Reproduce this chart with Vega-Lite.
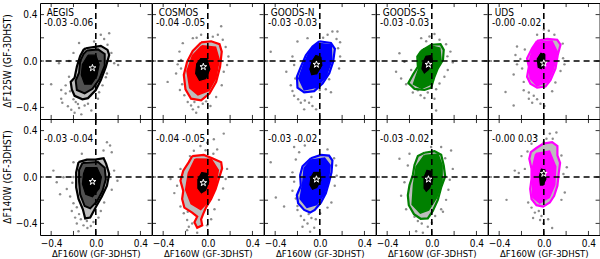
{
"$schema":"https://vega.github.io/schema/vega-lite/v6.json",
"padding":{"left":3,"top":1,"right":0,"bottom":0},
"bounds":"flush",
"data":{"values":[
{"s":"AEGIS","b":"F125W","t":"s","m":"-0.03 -0.06","x":-0.03,"y":-0.06},
{"s":"AEGIS","b":"F140W","t":"s","m":"-0.03 -0.04","x":-0.03,"y":-0.04},
{"s":"COSMOS","b":"F125W","t":"s","m":"-0.04 -0.05","x":-0.04,"y":-0.05},
{"s":"COSMOS","b":"F140W","t":"s","m":"-0.04 -0.05","x":-0.04,"y":-0.05},
{"s":"GOODS-N","b":"F125W","t":"s","m":"-0.03 -0.03","x":-0.03,"y":-0.03},
{"s":"GOODS-N","b":"F140W","t":"s","m":"-0.03 -0.02","x":-0.03,"y":-0.02},
{"s":"GOODS-S","b":"F125W","t":"s","m":"-0.03 -0.03","x":-0.03,"y":-0.03},
{"s":"GOODS-S","b":"F140W","t":"s","m":"-0.03 -0.02","x":-0.03,"y":-0.02},
{"s":"UDS","b":"F125W","t":"s","m":"-0.00 -0.02","x":0.0,"y":-0.02},
{"s":"UDS","b":"F140W","t":"s","m":"-0.00 0.03","x":0.0,"y":0.03},

{"s":"AEGIS","b":"F125W","t":"c","l":1,"o":0,"x":-0.09,"y":0.11},
{"s":"AEGIS","b":"F125W","t":"c","l":1,"o":1,"x":0.045,"y":0.13},
{"s":"AEGIS","b":"F125W","t":"c","l":1,"o":2,"x":0.105,"y":0.096},
{"s":"AEGIS","b":"F125W","t":"c","l":1,"o":3,"x":0.12,"y":0.052},
{"s":"AEGIS","b":"F125W","t":"c","l":1,"o":4,"x":0.09,"y":-0.05},
{"s":"AEGIS","b":"F125W","t":"c","l":1,"o":5,"x":0.045,"y":-0.165},
{"s":"AEGIS","b":"F125W","t":"c","l":1,"o":6,"x":0.0,"y":-0.25},
{"s":"AEGIS","b":"F125W","t":"c","l":1,"o":7,"x":-0.07,"y":-0.32},
{"s":"AEGIS","b":"F125W","t":"c","l":1,"o":8,"x":-0.12,"y":-0.33},
{"s":"AEGIS","b":"F125W","t":"c","l":1,"o":9,"x":-0.19,"y":-0.3},
{"s":"AEGIS","b":"F125W","t":"c","l":1,"o":10,"x":-0.215,"y":-0.245},
{"s":"AEGIS","b":"F125W","t":"c","l":1,"o":11,"x":-0.225,"y":-0.18},
{"s":"AEGIS","b":"F125W","t":"c","l":1,"o":12,"x":-0.19,"y":-0.145},
{"s":"AEGIS","b":"F125W","t":"c","l":1,"o":13,"x":-0.17,"y":-0.05},
{"s":"AEGIS","b":"F125W","t":"c","l":1,"o":14,"x":-0.14,"y":0.043},
{"s":"AEGIS","b":"F125W","t":"c","l":1,"o":15,"x":-0.11,"y":0.096},
{"s":"AEGIS","b":"F125W","t":"c","l":1,"o":16,"x":-0.09,"y":0.11},
{"s":"AEGIS","b":"F125W","t":"c","l":2,"o":0,"x":-0.08,"y":0.09},
{"s":"AEGIS","b":"F125W","t":"c","l":2,"o":1,"x":0.02,"y":0.1},
{"s":"AEGIS","b":"F125W","t":"c","l":2,"o":2,"x":0.08,"y":0.06},
{"s":"AEGIS","b":"F125W","t":"c","l":2,"o":3,"x":0.08,"y":-0.04},
{"s":"AEGIS","b":"F125W","t":"c","l":2,"o":4,"x":0.03,"y":-0.16},
{"s":"AEGIS","b":"F125W","t":"c","l":2,"o":5,"x":-0.03,"y":-0.24},
{"s":"AEGIS","b":"F125W","t":"c","l":2,"o":6,"x":-0.1,"y":-0.28},
{"s":"AEGIS","b":"F125W","t":"c","l":2,"o":7,"x":-0.17,"y":-0.25},
{"s":"AEGIS","b":"F125W","t":"c","l":2,"o":8,"x":-0.18,"y":-0.17},
{"s":"AEGIS","b":"F125W","t":"c","l":2,"o":9,"x":-0.15,"y":-0.1},
{"s":"AEGIS","b":"F125W","t":"c","l":2,"o":10,"x":-0.14,"y":0.0},
{"s":"AEGIS","b":"F125W","t":"c","l":2,"o":11,"x":-0.11,"y":0.06},
{"s":"AEGIS","b":"F125W","t":"c","l":2,"o":12,"x":-0.08,"y":0.09},
{"s":"AEGIS","b":"F125W","t":"c","l":3,"o":0,"x":-0.07,"y":0.05},
{"s":"AEGIS","b":"F125W","t":"c","l":3,"o":1,"x":0.0,"y":0.05},
{"s":"AEGIS","b":"F125W","t":"c","l":3,"o":2,"x":0.03,"y":-0.03},
{"s":"AEGIS","b":"F125W","t":"c","l":3,"o":3,"x":0.01,"y":-0.13},
{"s":"AEGIS","b":"F125W","t":"c","l":3,"o":4,"x":-0.04,"y":-0.2},
{"s":"AEGIS","b":"F125W","t":"c","l":3,"o":5,"x":-0.1,"y":-0.2},
{"s":"AEGIS","b":"F125W","t":"c","l":3,"o":6,"x":-0.13,"y":-0.12},
{"s":"AEGIS","b":"F125W","t":"c","l":3,"o":7,"x":-0.12,"y":-0.03},
{"s":"AEGIS","b":"F125W","t":"c","l":3,"o":8,"x":-0.07,"y":0.05},

{"s":"AEGIS","b":"F140W","t":"c","l":1,"o":0,"x":-0.155,"y":0.128},
{"s":"AEGIS","b":"F140W","t":"c","l":1,"o":1,"x":-0.08,"y":0.15},
{"s":"AEGIS","b":"F140W","t":"c","l":1,"o":2,"x":-0.005,"y":0.15},
{"s":"AEGIS","b":"F140W","t":"c","l":1,"o":3,"x":0.07,"y":0.162},
{"s":"AEGIS","b":"F140W","t":"c","l":1,"o":4,"x":0.093,"y":0.113},
{"s":"AEGIS","b":"F140W","t":"c","l":1,"o":5,"x":0.12,"y":0.026},
{"s":"AEGIS","b":"F140W","t":"c","l":1,"o":6,"x":0.1,"y":-0.075},
{"s":"AEGIS","b":"F140W","t":"c","l":1,"o":7,"x":0.054,"y":-0.168},
{"s":"AEGIS","b":"F140W","t":"c","l":1,"o":8,"x":0.003,"y":-0.255},
{"s":"AEGIS","b":"F140W","t":"c","l":1,"o":9,"x":-0.05,"y":-0.35},
{"s":"AEGIS","b":"F140W","t":"c","l":1,"o":10,"x":-0.095,"y":-0.357},
{"s":"AEGIS","b":"F140W","t":"c","l":1,"o":11,"x":-0.116,"y":-0.278},
{"s":"AEGIS","b":"F140W","t":"c","l":1,"o":12,"x":-0.155,"y":-0.19},
{"s":"AEGIS","b":"F140W","t":"c","l":1,"o":13,"x":-0.176,"y":-0.09},
{"s":"AEGIS","b":"F140W","t":"c","l":1,"o":14,"x":-0.176,"y":0.04},
{"s":"AEGIS","b":"F140W","t":"c","l":1,"o":15,"x":-0.155,"y":0.128},
{"s":"AEGIS","b":"F140W","t":"c","l":2,"o":0,"x":-0.12,"y":0.12},
{"s":"AEGIS","b":"F140W","t":"c","l":2,"o":1,"x":0.02,"y":0.13},
{"s":"AEGIS","b":"F140W","t":"c","l":2,"o":2,"x":0.08,"y":0.08},
{"s":"AEGIS","b":"F140W","t":"c","l":2,"o":3,"x":0.09,"y":-0.02},
{"s":"AEGIS","b":"F140W","t":"c","l":2,"o":4,"x":0.06,"y":-0.12},
{"s":"AEGIS","b":"F140W","t":"c","l":2,"o":5,"x":0.01,"y":-0.21},
{"s":"AEGIS","b":"F140W","t":"c","l":2,"o":6,"x":-0.05,"y":-0.27},
{"s":"AEGIS","b":"F140W","t":"c","l":2,"o":7,"x":-0.1,"y":-0.25},
{"s":"AEGIS","b":"F140W","t":"c","l":2,"o":8,"x":-0.14,"y":-0.15},
{"s":"AEGIS","b":"F140W","t":"c","l":2,"o":9,"x":-0.15,"y":-0.04},
{"s":"AEGIS","b":"F140W","t":"c","l":2,"o":10,"x":-0.15,"y":0.06},
{"s":"AEGIS","b":"F140W","t":"c","l":2,"o":11,"x":-0.12,"y":0.12},
{"s":"AEGIS","b":"F140W","t":"c","l":3,"o":0,"x":-0.09,"y":0.08},
{"s":"AEGIS","b":"F140W","t":"c","l":3,"o":1,"x":0.01,"y":0.08},
{"s":"AEGIS","b":"F140W","t":"c","l":3,"o":2,"x":0.05,"y":0.0},
{"s":"AEGIS","b":"F140W","t":"c","l":3,"o":3,"x":0.03,"y":-0.1},
{"s":"AEGIS","b":"F140W","t":"c","l":3,"o":4,"x":-0.03,"y":-0.17},
{"s":"AEGIS","b":"F140W","t":"c","l":3,"o":5,"x":-0.09,"y":-0.15},
{"s":"AEGIS","b":"F140W","t":"c","l":3,"o":6,"x":-0.12,"y":-0.06},
{"s":"AEGIS","b":"F140W","t":"c","l":3,"o":7,"x":-0.11,"y":0.03},
{"s":"AEGIS","b":"F140W","t":"c","l":3,"o":8,"x":-0.09,"y":0.08},

{"s":"COSMOS","b":"F125W","t":"c","l":1,"o":0,"x":-0.06,"y":0.16},
{"s":"COSMOS","b":"F125W","t":"c","l":1,"o":1,"x":0.03,"y":0.17},
{"s":"COSMOS","b":"F125W","t":"c","l":1,"o":2,"x":0.105,"y":0.145},
{"s":"COSMOS","b":"F125W","t":"c","l":1,"o":3,"x":0.125,"y":0.08},
{"s":"COSMOS","b":"F125W","t":"c","l":1,"o":4,"x":0.11,"y":-0.05},
{"s":"COSMOS","b":"F125W","t":"c","l":1,"o":5,"x":0.075,"y":-0.18},
{"s":"COSMOS","b":"F125W","t":"c","l":1,"o":6,"x":0.015,"y":-0.28},
{"s":"COSMOS","b":"F125W","t":"c","l":1,"o":7,"x":-0.06,"y":-0.34},
{"s":"COSMOS","b":"F125W","t":"c","l":1,"o":8,"x":-0.15,"y":-0.325},
{"s":"COSMOS","b":"F125W","t":"c","l":1,"o":9,"x":-0.2,"y":-0.245},
{"s":"COSMOS","b":"F125W","t":"c","l":1,"o":10,"x":-0.215,"y":-0.12},
{"s":"COSMOS","b":"F125W","t":"c","l":1,"o":11,"x":-0.185,"y":-0.005},
{"s":"COSMOS","b":"F125W","t":"c","l":1,"o":12,"x":-0.135,"y":0.087},
{"s":"COSMOS","b":"F125W","t":"c","l":1,"o":13,"x":-0.06,"y":0.16},
{"s":"COSMOS","b":"F125W","t":"c","l":2,"o":0,"x":-0.052,"y":0.13},
{"s":"COSMOS","b":"F125W","t":"c","l":2,"o":1,"x":0.068,"y":0.118},
{"s":"COSMOS","b":"F125W","t":"c","l":2,"o":2,"x":0.1,"y":0.01},
{"s":"COSMOS","b":"F125W","t":"c","l":2,"o":3,"x":0.07,"y":-0.146},
{"s":"COSMOS","b":"F125W","t":"c","l":2,"o":4,"x":0.008,"y":-0.254},
{"s":"COSMOS","b":"F125W","t":"c","l":2,"o":5,"x":-0.088,"y":-0.29},
{"s":"COSMOS","b":"F125W","t":"c","l":2,"o":6,"x":-0.16,"y":-0.23},
{"s":"COSMOS","b":"F125W","t":"c","l":2,"o":7,"x":-0.184,"y":-0.086},
{"s":"COSMOS","b":"F125W","t":"c","l":2,"o":8,"x":-0.136,"y":0.046},
{"s":"COSMOS","b":"F125W","t":"c","l":2,"o":9,"x":-0.052,"y":0.13},
{"s":"COSMOS","b":"F125W","t":"c","l":3,"o":0,"x":-0.07,"y":0.03},
{"s":"COSMOS","b":"F125W","t":"c","l":3,"o":1,"x":0.0,"y":0.03},
{"s":"COSMOS","b":"F125W","t":"c","l":3,"o":2,"x":0.03,"y":-0.07},
{"s":"COSMOS","b":"F125W","t":"c","l":3,"o":3,"x":-0.01,"y":-0.16},
{"s":"COSMOS","b":"F125W","t":"c","l":3,"o":4,"x":-0.08,"y":-0.18},
{"s":"COSMOS","b":"F125W","t":"c","l":3,"o":5,"x":-0.12,"y":-0.11},
{"s":"COSMOS","b":"F125W","t":"c","l":3,"o":6,"x":-0.11,"y":-0.02},
{"s":"COSMOS","b":"F125W","t":"c","l":3,"o":7,"x":-0.07,"y":0.03},

{"s":"COSMOS","b":"F140W","t":"c","l":1,"o":0,"x":-0.14,"y":0.18},
{"s":"COSMOS","b":"F140W","t":"c","l":1,"o":1,"x":-0.036,"y":0.19},
{"s":"COSMOS","b":"F140W","t":"c","l":1,"o":2,"x":0.04,"y":0.162},
{"s":"COSMOS","b":"F140W","t":"c","l":1,"o":3,"x":0.12,"y":0.128},
{"s":"COSMOS","b":"F140W","t":"c","l":1,"o":4,"x":0.128,"y":0.075},
{"s":"COSMOS","b":"F140W","t":"c","l":1,"o":5,"x":0.1,"y":-0.012},
{"s":"COSMOS","b":"F140W","t":"c","l":1,"o":6,"x":0.07,"y":-0.104},
{"s":"COSMOS","b":"F140W","t":"c","l":1,"o":7,"x":0.03,"y":-0.19},
{"s":"COSMOS","b":"F140W","t":"c","l":1,"o":8,"x":-0.012,"y":-0.255},
{"s":"COSMOS","b":"F140W","t":"c","l":1,"o":9,"x":-0.042,"y":-0.32},
{"s":"COSMOS","b":"F140W","t":"c","l":1,"o":10,"x":-0.06,"y":-0.365},
{"s":"COSMOS","b":"F140W","t":"c","l":1,"o":11,"x":-0.05,"y":-0.417},
{"s":"COSMOS","b":"F140W","t":"c","l":1,"o":12,"x":-0.095,"y":-0.437},
{"s":"COSMOS","b":"F140W","t":"c","l":1,"o":13,"x":-0.12,"y":-0.39},
{"s":"COSMOS","b":"F140W","t":"c","l":1,"o":14,"x":-0.095,"y":-0.342},
{"s":"COSMOS","b":"F140W","t":"c","l":1,"o":15,"x":-0.14,"y":-0.307},
{"s":"COSMOS","b":"F140W","t":"c","l":1,"o":16,"x":-0.21,"y":-0.264},
{"s":"COSMOS","b":"F140W","t":"c","l":1,"o":17,"x":-0.23,"y":-0.19},
{"s":"COSMOS","b":"F140W","t":"c","l":1,"o":18,"x":-0.22,"y":-0.12},
{"s":"COSMOS","b":"F140W","t":"c","l":1,"o":19,"x":-0.245,"y":-0.032},
{"s":"COSMOS","b":"F140W","t":"c","l":1,"o":20,"x":-0.22,"y":0.055},
{"s":"COSMOS","b":"F140W","t":"c","l":1,"o":21,"x":-0.17,"y":0.128},
{"s":"COSMOS","b":"F140W","t":"c","l":1,"o":22,"x":-0.14,"y":0.18},
{"s":"COSMOS","b":"F140W","t":"c","l":2,"o":0,"x":-0.112,"y":0.154},
{"s":"COSMOS","b":"F140W","t":"c","l":2,"o":1,"x":0.03,"y":0.15},
{"s":"COSMOS","b":"F140W","t":"c","l":2,"o":2,"x":0.092,"y":0.058},
{"s":"COSMOS","b":"F140W","t":"c","l":2,"o":3,"x":0.068,"y":-0.086},
{"s":"COSMOS","b":"F140W","t":"c","l":2,"o":4,"x":0.008,"y":-0.206},
{"s":"COSMOS","b":"F140W","t":"c","l":2,"o":5,"x":-0.064,"y":-0.278},
{"s":"COSMOS","b":"F140W","t":"c","l":2,"o":6,"x":-0.148,"y":-0.23},
{"s":"COSMOS","b":"F140W","t":"c","l":2,"o":7,"x":-0.196,"y":-0.11},
{"s":"COSMOS","b":"F140W","t":"c","l":2,"o":8,"x":-0.172,"y":0.034},
{"s":"COSMOS","b":"F140W","t":"c","l":2,"o":9,"x":-0.112,"y":0.154},
{"s":"COSMOS","b":"F140W","t":"c","l":3,"o":0,"x":-0.06,"y":0.05},
{"s":"COSMOS","b":"F140W","t":"c","l":3,"o":1,"x":0.0,"y":0.04},
{"s":"COSMOS","b":"F140W","t":"c","l":3,"o":2,"x":0.02,"y":-0.04},
{"s":"COSMOS","b":"F140W","t":"c","l":3,"o":3,"x":-0.01,"y":-0.12},
{"s":"COSMOS","b":"F140W","t":"c","l":3,"o":4,"x":-0.06,"y":-0.15},
{"s":"COSMOS","b":"F140W","t":"c","l":3,"o":5,"x":-0.1,"y":-0.1},
{"s":"COSMOS","b":"F140W","t":"c","l":3,"o":6,"x":-0.1,"y":-0.02},
{"s":"COSMOS","b":"F140W","t":"c","l":3,"o":7,"x":-0.06,"y":0.05},

{"s":"GOODS-N","b":"F125W","t":"c","l":1,"o":0,"x":-0.005,"y":0.17},
{"s":"GOODS-N","b":"F125W","t":"c","l":1,"o":1,"x":0.1,"y":0.155},
{"s":"GOODS-N","b":"F125W","t":"c","l":1,"o":2,"x":0.135,"y":0.105},
{"s":"GOODS-N","b":"F125W","t":"c","l":1,"o":3,"x":0.12,"y":-0.005},
{"s":"GOODS-N","b":"F125W","t":"c","l":1,"o":4,"x":0.085,"y":-0.105},
{"s":"GOODS-N","b":"F125W","t":"c","l":1,"o":5,"x":0.025,"y":-0.195},
{"s":"GOODS-N","b":"F125W","t":"c","l":1,"o":6,"x":-0.05,"y":-0.26},
{"s":"GOODS-N","b":"F125W","t":"c","l":1,"o":7,"x":-0.14,"y":-0.27},
{"s":"GOODS-N","b":"F125W","t":"c","l":1,"o":8,"x":-0.2,"y":-0.23},
{"s":"GOODS-N","b":"F125W","t":"c","l":1,"o":9,"x":-0.205,"y":-0.135},
{"s":"GOODS-N","b":"F125W","t":"c","l":1,"o":10,"x":-0.17,"y":-0.05},
{"s":"GOODS-N","b":"F125W","t":"c","l":1,"o":11,"x":-0.125,"y":0.05},
{"s":"GOODS-N","b":"F125W","t":"c","l":1,"o":12,"x":-0.065,"y":0.125},
{"s":"GOODS-N","b":"F125W","t":"c","l":1,"o":13,"x":-0.005,"y":0.17},
{"s":"GOODS-N","b":"F125W","t":"c","l":2,"o":0,"x":-0.02,"y":0.15},
{"s":"GOODS-N","b":"F125W","t":"c","l":2,"o":1,"x":0.1,"y":0.136},
{"s":"GOODS-N","b":"F125W","t":"c","l":2,"o":2,"x":0.105,"y":0.005},
{"s":"GOODS-N","b":"F125W","t":"c","l":2,"o":3,"x":0.055,"y":-0.13},
{"s":"GOODS-N","b":"F125W","t":"c","l":2,"o":4,"x":-0.03,"y":-0.225},
{"s":"GOODS-N","b":"F125W","t":"c","l":2,"o":5,"x":-0.138,"y":-0.246},
{"s":"GOODS-N","b":"F125W","t":"c","l":2,"o":6,"x":-0.186,"y":-0.15},
{"s":"GOODS-N","b":"F125W","t":"c","l":2,"o":7,"x":-0.138,"y":-0.018},
{"s":"GOODS-N","b":"F125W","t":"c","l":2,"o":8,"x":-0.078,"y":0.102},
{"s":"GOODS-N","b":"F125W","t":"c","l":2,"o":9,"x":-0.02,"y":0.15},
{"s":"GOODS-N","b":"F125W","t":"c","l":3,"o":0,"x":-0.04,"y":0.06},
{"s":"GOODS-N","b":"F125W","t":"c","l":3,"o":1,"x":0.02,"y":0.04},
{"s":"GOODS-N","b":"F125W","t":"c","l":3,"o":2,"x":0.03,"y":-0.04},
{"s":"GOODS-N","b":"F125W","t":"c","l":3,"o":3,"x":-0.02,"y":-0.12},
{"s":"GOODS-N","b":"F125W","t":"c","l":3,"o":4,"x":-0.08,"y":-0.13},
{"s":"GOODS-N","b":"F125W","t":"c","l":3,"o":5,"x":-0.1,"y":-0.07},
{"s":"GOODS-N","b":"F125W","t":"c","l":3,"o":6,"x":-0.08,"y":0.0},
{"s":"GOODS-N","b":"F125W","t":"c","l":3,"o":7,"x":-0.04,"y":0.06},

{"s":"GOODS-N","b":"F140W","t":"c","l":1,"o":0,"x":-0.08,"y":0.162},
{"s":"GOODS-N","b":"F140W","t":"c","l":1,"o":1,"x":0.01,"y":0.19},
{"s":"GOODS-N","b":"F140W","t":"c","l":1,"o":2,"x":0.083,"y":0.185},
{"s":"GOODS-N","b":"F140W","t":"c","l":1,"o":3,"x":0.113,"y":0.142},
{"s":"GOODS-N","b":"F140W","t":"c","l":1,"o":4,"x":0.105,"y":0.04},
{"s":"GOODS-N","b":"F140W","t":"c","l":1,"o":5,"x":0.083,"y":-0.046},
{"s":"GOODS-N","b":"F140W","t":"c","l":1,"o":6,"x":0.054,"y":-0.14},
{"s":"GOODS-N","b":"F140W","t":"c","l":1,"o":7,"x":0.01,"y":-0.22},
{"s":"GOODS-N","b":"F140W","t":"c","l":1,"o":8,"x":-0.045,"y":-0.284},
{"s":"GOODS-N","b":"F140W","t":"c","l":1,"o":9,"x":-0.087,"y":-0.307},
{"s":"GOODS-N","b":"F140W","t":"c","l":1,"o":10,"x":-0.14,"y":-0.284},
{"s":"GOODS-N","b":"F140W","t":"c","l":1,"o":11,"x":-0.194,"y":-0.226},
{"s":"GOODS-N","b":"F140W","t":"c","l":1,"o":12,"x":-0.206,"y":-0.157},
{"s":"GOODS-N","b":"F140W","t":"c","l":1,"o":13,"x":-0.17,"y":-0.075},
{"s":"GOODS-N","b":"F140W","t":"c","l":1,"o":14,"x":-0.176,"y":0.017},
{"s":"GOODS-N","b":"F140W","t":"c","l":1,"o":15,"x":-0.155,"y":0.093},
{"s":"GOODS-N","b":"F140W","t":"c","l":1,"o":16,"x":-0.08,"y":0.162},
{"s":"GOODS-N","b":"F140W","t":"c","l":2,"o":0,"x":-0.078,"y":0.145},
{"s":"GOODS-N","b":"F140W","t":"c","l":2,"o":1,"x":0.042,"y":0.16},
{"s":"GOODS-N","b":"F140W","t":"c","l":2,"o":2,"x":0.09,"y":0.1},
{"s":"GOODS-N","b":"F140W","t":"c","l":2,"o":3,"x":0.075,"y":-0.032},
{"s":"GOODS-N","b":"F140W","t":"c","l":2,"o":4,"x":0.035,"y":-0.15},
{"s":"GOODS-N","b":"F140W","t":"c","l":2,"o":5,"x":-0.03,"y":-0.236},
{"s":"GOODS-N","b":"F140W","t":"c","l":2,"o":6,"x":-0.114,"y":-0.26},
{"s":"GOODS-N","b":"F140W","t":"c","l":2,"o":7,"x":-0.174,"y":-0.188},
{"s":"GOODS-N","b":"F140W","t":"c","l":2,"o":8,"x":-0.15,"y":-0.044},
{"s":"GOODS-N","b":"F140W","t":"c","l":2,"o":9,"x":-0.138,"y":0.076},
{"s":"GOODS-N","b":"F140W","t":"c","l":2,"o":10,"x":-0.078,"y":0.145},
{"s":"GOODS-N","b":"F140W","t":"c","l":3,"o":0,"x":-0.06,"y":0.05},
{"s":"GOODS-N","b":"F140W","t":"c","l":3,"o":1,"x":0.01,"y":0.05},
{"s":"GOODS-N","b":"F140W","t":"c","l":3,"o":2,"x":0.02,"y":-0.03},
{"s":"GOODS-N","b":"F140W","t":"c","l":3,"o":3,"x":-0.02,"y":-0.1},
{"s":"GOODS-N","b":"F140W","t":"c","l":3,"o":4,"x":-0.07,"y":-0.12},
{"s":"GOODS-N","b":"F140W","t":"c","l":3,"o":5,"x":-0.1,"y":-0.07},
{"s":"GOODS-N","b":"F140W","t":"c","l":3,"o":6,"x":-0.09,"y":0.0},
{"s":"GOODS-N","b":"F140W","t":"c","l":3,"o":7,"x":-0.06,"y":0.05},

{"s":"GOODS-S","b":"F125W","t":"c","l":1,"o":0,"x":-0.095,"y":0.087},
{"s":"GOODS-S","b":"F125W","t":"c","l":1,"o":1,"x":-0.005,"y":0.14},
{"s":"GOODS-S","b":"F125W","t":"c","l":1,"o":2,"x":0.078,"y":0.145},
{"s":"GOODS-S","b":"F125W","t":"c","l":1,"o":3,"x":0.107,"y":0.096},
{"s":"GOODS-S","b":"F125W","t":"c","l":1,"o":4,"x":0.1,"y":0.01},
{"s":"GOODS-S","b":"F125W","t":"c","l":1,"o":5,"x":0.054,"y":-0.064},
{"s":"GOODS-S","b":"F125W","t":"c","l":1,"o":6,"x":0.024,"y":-0.136},
{"s":"GOODS-S","b":"F125W","t":"c","l":1,"o":7,"x":-0.006,"y":-0.23},
{"s":"GOODS-S","b":"F125W","t":"c","l":1,"o":8,"x":-0.066,"y":-0.25},
{"s":"GOODS-S","b":"F125W","t":"c","l":1,"o":9,"x":-0.155,"y":-0.24},
{"s":"GOODS-S","b":"F125W","t":"c","l":1,"o":10,"x":-0.21,"y":-0.19},
{"s":"GOODS-S","b":"F125W","t":"c","l":1,"o":11,"x":-0.17,"y":-0.12},
{"s":"GOODS-S","b":"F125W","t":"c","l":1,"o":12,"x":-0.125,"y":-0.05},
{"s":"GOODS-S","b":"F125W","t":"c","l":1,"o":13,"x":-0.13,"y":0.038},
{"s":"GOODS-S","b":"F125W","t":"c","l":1,"o":14,"x":-0.095,"y":0.087},
{"s":"GOODS-S","b":"F125W","t":"c","l":2,"o":0,"x":-0.078,"y":0.1},
{"s":"GOODS-S","b":"F125W","t":"c","l":2,"o":1,"x":0.006,"y":0.125},
{"s":"GOODS-S","b":"F125W","t":"c","l":2,"o":2,"x":0.07,"y":0.11},
{"s":"GOODS-S","b":"F125W","t":"c","l":2,"o":3,"x":0.08,"y":0.006},
{"s":"GOODS-S","b":"F125W","t":"c","l":2,"o":4,"x":0.025,"y":-0.11},
{"s":"GOODS-S","b":"F125W","t":"c","l":2,"o":5,"x":-0.015,"y":-0.2},
{"s":"GOODS-S","b":"F125W","t":"c","l":2,"o":6,"x":-0.09,"y":-0.234},
{"s":"GOODS-S","b":"F125W","t":"c","l":2,"o":7,"x":-0.162,"y":-0.198},
{"s":"GOODS-S","b":"F125W","t":"c","l":2,"o":8,"x":-0.114,"y":-0.066},
{"s":"GOODS-S","b":"F125W","t":"c","l":2,"o":9,"x":-0.114,"y":0.042},
{"s":"GOODS-S","b":"F125W","t":"c","l":2,"o":10,"x":-0.078,"y":0.1},
{"s":"GOODS-S","b":"F125W","t":"c","l":3,"o":0,"x":-0.06,"y":0.05},
{"s":"GOODS-S","b":"F125W","t":"c","l":3,"o":1,"x":0.0,"y":0.06},
{"s":"GOODS-S","b":"F125W","t":"c","l":3,"o":2,"x":0.02,"y":0.0},
{"s":"GOODS-S","b":"F125W","t":"c","l":3,"o":3,"x":-0.02,"y":-0.08},
{"s":"GOODS-S","b":"F125W","t":"c","l":3,"o":4,"x":-0.07,"y":-0.12},
{"s":"GOODS-S","b":"F125W","t":"c","l":3,"o":5,"x":-0.1,"y":-0.07},
{"s":"GOODS-S","b":"F125W","t":"c","l":3,"o":6,"x":-0.09,"y":-0.01},
{"s":"GOODS-S","b":"F125W","t":"c","l":3,"o":7,"x":-0.06,"y":0.05},

{"s":"GOODS-S","b":"F140W","t":"c","l":1,"o":0,"x":-0.066,"y":0.209},
{"s":"GOODS-S","b":"F140W","t":"c","l":1,"o":1,"x":0.024,"y":0.223},
{"s":"GOODS-S","b":"F140W","t":"c","l":1,"o":2,"x":0.084,"y":0.191},
{"s":"GOODS-S","b":"F140W","t":"c","l":1,"o":3,"x":0.107,"y":0.099},
{"s":"GOODS-S","b":"F140W","t":"c","l":1,"o":4,"x":0.12,"y":0.006},
{"s":"GOODS-S","b":"F140W","t":"c","l":1,"o":5,"x":0.084,"y":-0.09},
{"s":"GOODS-S","b":"F140W","t":"c","l":1,"o":6,"x":0.054,"y":-0.197},
{"s":"GOODS-S","b":"F140W","t":"c","l":1,"o":7,"x":0.009,"y":-0.293},
{"s":"GOODS-S","b":"F140W","t":"c","l":1,"o":8,"x":-0.036,"y":-0.357},
{"s":"GOODS-S","b":"F140W","t":"c","l":1,"o":9,"x":-0.1,"y":-0.36},
{"s":"GOODS-S","b":"F140W","t":"c","l":1,"o":10,"x":-0.16,"y":-0.32},
{"s":"GOODS-S","b":"F140W","t":"c","l":1,"o":11,"x":-0.206,"y":-0.243},
{"s":"GOODS-S","b":"F140W","t":"c","l":1,"o":12,"x":-0.215,"y":-0.157},
{"s":"GOODS-S","b":"F140W","t":"c","l":1,"o":13,"x":-0.2,"y":-0.07},
{"s":"GOODS-S","b":"F140W","t":"c","l":1,"o":14,"x":-0.17,"y":0.017},
{"s":"GOODS-S","b":"F140W","t":"c","l":1,"o":15,"x":-0.155,"y":0.104},
{"s":"GOODS-S","b":"F140W","t":"c","l":1,"o":16,"x":-0.125,"y":0.18},
{"s":"GOODS-S","b":"F140W","t":"c","l":1,"o":17,"x":-0.066,"y":0.209},
{"s":"GOODS-S","b":"F140W","t":"c","l":2,"o":0,"x":-0.066,"y":0.184},
{"s":"GOODS-S","b":"F140W","t":"c","l":2,"o":1,"x":0.054,"y":0.196},
{"s":"GOODS-S","b":"F140W","t":"c","l":2,"o":2,"x":0.09,"y":0.1},
{"s":"GOODS-S","b":"F140W","t":"c","l":2,"o":3,"x":0.09,"y":-0.044},
{"s":"GOODS-S","b":"F140W","t":"c","l":2,"o":4,"x":0.042,"y":-0.176},
{"s":"GOODS-S","b":"F140W","t":"c","l":2,"o":5,"x":-0.03,"y":-0.284},
{"s":"GOODS-S","b":"F140W","t":"c","l":2,"o":6,"x":-0.102,"y":-0.308},
{"s":"GOODS-S","b":"F140W","t":"c","l":2,"o":7,"x":-0.174,"y":-0.236},
{"s":"GOODS-S","b":"F140W","t":"c","l":2,"o":8,"x":-0.162,"y":-0.068},
{"s":"GOODS-S","b":"F140W","t":"c","l":2,"o":9,"x":-0.138,"y":0.088},
{"s":"GOODS-S","b":"F140W","t":"c","l":2,"o":10,"x":-0.066,"y":0.184},
{"s":"GOODS-S","b":"F140W","t":"c","l":3,"o":0,"x":-0.05,"y":0.07},
{"s":"GOODS-S","b":"F140W","t":"c","l":3,"o":1,"x":0.0,"y":0.06},
{"s":"GOODS-S","b":"F140W","t":"c","l":3,"o":2,"x":0.02,"y":-0.02},
{"s":"GOODS-S","b":"F140W","t":"c","l":3,"o":3,"x":-0.01,"y":-0.1},
{"s":"GOODS-S","b":"F140W","t":"c","l":3,"o":4,"x":-0.05,"y":-0.14},
{"s":"GOODS-S","b":"F140W","t":"c","l":3,"o":5,"x":-0.08,"y":-0.1},
{"s":"GOODS-S","b":"F140W","t":"c","l":3,"o":6,"x":-0.08,"y":0.0},
{"s":"GOODS-S","b":"F140W","t":"c","l":3,"o":7,"x":-0.05,"y":0.07},

{"s":"UDS","b":"F125W","t":"c","l":1,"o":0,"x":-0.06,"y":0.174},
{"s":"UDS","b":"F125W","t":"c","l":1,"o":1,"x":0.03,"y":0.19},
{"s":"UDS","b":"F125W","t":"c","l":1,"o":2,"x":0.12,"y":0.183},
{"s":"UDS","b":"F125W","t":"c","l":1,"o":3,"x":0.15,"y":0.14},
{"s":"UDS","b":"F125W","t":"c","l":1,"o":4,"x":0.125,"y":0.052},
{"s":"UDS","b":"F125W","t":"c","l":1,"o":5,"x":0.105,"y":-0.064},
{"s":"UDS","b":"F125W","t":"c","l":1,"o":6,"x":0.06,"y":-0.165},
{"s":"UDS","b":"F125W","t":"c","l":1,"o":7,"x":0.015,"y":-0.22},
{"s":"UDS","b":"F125W","t":"c","l":1,"o":8,"x":-0.06,"y":-0.23},
{"s":"UDS","b":"F125W","t":"c","l":1,"o":9,"x":-0.12,"y":-0.195},
{"s":"UDS","b":"F125W","t":"c","l":1,"o":10,"x":-0.15,"y":-0.136},
{"s":"UDS","b":"F125W","t":"c","l":1,"o":11,"x":-0.134,"y":-0.05},
{"s":"UDS","b":"F125W","t":"c","l":1,"o":12,"x":-0.15,"y":0.023},
{"s":"UDS","b":"F125W","t":"c","l":1,"o":13,"x":-0.105,"y":0.11},
{"s":"UDS","b":"F125W","t":"c","l":1,"o":14,"x":-0.06,"y":0.174},
{"s":"UDS","b":"F125W","t":"c","l":2,"o":0,"x":-0.055,"y":0.16},
{"s":"UDS","b":"F125W","t":"c","l":2,"o":1,"x":0.072,"y":0.17},
{"s":"UDS","b":"F125W","t":"c","l":2,"o":2,"x":0.12,"y":0.076},
{"s":"UDS","b":"F125W","t":"c","l":2,"o":3,"x":0.084,"y":-0.068},
{"s":"UDS","b":"F125W","t":"c","l":2,"o":4,"x":0.036,"y":-0.176},
{"s":"UDS","b":"F125W","t":"c","l":2,"o":5,"x":-0.06,"y":-0.212},
{"s":"UDS","b":"F125W","t":"c","l":2,"o":6,"x":-0.12,"y":-0.15},
{"s":"UDS","b":"F125W","t":"c","l":2,"o":7,"x":-0.132,"y":-0.02},
{"s":"UDS","b":"F125W","t":"c","l":2,"o":8,"x":-0.1,"y":0.1},
{"s":"UDS","b":"F125W","t":"c","l":2,"o":9,"x":-0.055,"y":0.16},
{"s":"UDS","b":"F125W","t":"c","l":3,"o":0,"x":-0.03,"y":0.08},
{"s":"UDS","b":"F125W","t":"c","l":3,"o":1,"x":0.02,"y":0.06},
{"s":"UDS","b":"F125W","t":"c","l":3,"o":2,"x":0.02,"y":-0.03},
{"s":"UDS","b":"F125W","t":"c","l":3,"o":3,"x":-0.02,"y":-0.08},
{"s":"UDS","b":"F125W","t":"c","l":3,"o":4,"x":-0.06,"y":-0.06},
{"s":"UDS","b":"F125W","t":"c","l":3,"o":5,"x":-0.07,"y":0.02},
{"s":"UDS","b":"F125W","t":"c","l":3,"o":6,"x":-0.03,"y":0.08},

{"s":"UDS","b":"F140W","t":"c","l":1,"o":0,"x":-0.006,"y":0.287},
{"s":"UDS","b":"F140W","t":"c","l":1,"o":1,"x":0.075,"y":0.3},
{"s":"UDS","b":"F140W","t":"c","l":1,"o":2,"x":0.122,"y":0.267},
{"s":"UDS","b":"F140W","t":"c","l":1,"o":3,"x":0.122,"y":0.186},
{"s":"UDS","b":"F140W","t":"c","l":1,"o":4,"x":0.146,"y":0.122},
{"s":"UDS","b":"F140W","t":"c","l":1,"o":5,"x":0.134,"y":0.035},
{"s":"UDS","b":"F140W","t":"c","l":1,"o":6,"x":0.122,"y":-0.075},
{"s":"UDS","b":"F140W","t":"c","l":1,"o":7,"x":0.093,"y":-0.162},
{"s":"UDS","b":"F140W","t":"c","l":1,"o":8,"x":0.054,"y":-0.22},
{"s":"UDS","b":"F140W","t":"c","l":1,"o":9,"x":-0.006,"y":-0.255},
{"s":"UDS","b":"F140W","t":"c","l":1,"o":10,"x":-0.066,"y":-0.243},
{"s":"UDS","b":"F140W","t":"c","l":1,"o":11,"x":-0.11,"y":-0.19},
{"s":"UDS","b":"F140W","t":"c","l":1,"o":12,"x":-0.122,"y":-0.104},
{"s":"UDS","b":"F140W","t":"c","l":1,"o":13,"x":-0.11,"y":-0.017},
{"s":"UDS","b":"F140W","t":"c","l":1,"o":14,"x":-0.11,"y":0.07},
{"s":"UDS","b":"F140W","t":"c","l":1,"o":15,"x":-0.13,"y":0.157},
{"s":"UDS","b":"F140W","t":"c","l":1,"o":16,"x":-0.116,"y":0.214},
{"s":"UDS","b":"F140W","t":"c","l":1,"o":17,"x":-0.066,"y":0.25},
{"s":"UDS","b":"F140W","t":"c","l":1,"o":18,"x":-0.006,"y":0.287},
{"s":"UDS","b":"F140W","t":"c","l":2,"o":0,"x":-0.07,"y":0.2},
{"s":"UDS","b":"F140W","t":"c","l":2,"o":1,"x":0.05,"y":0.22},
{"s":"UDS","b":"F140W","t":"c","l":2,"o":2,"x":0.105,"y":0.09},
{"s":"UDS","b":"F140W","t":"c","l":2,"o":3,"x":0.096,"y":-0.066},
{"s":"UDS","b":"F140W","t":"c","l":2,"o":4,"x":0.048,"y":-0.174},
{"s":"UDS","b":"F140W","t":"c","l":2,"o":5,"x":-0.036,"y":-0.222},
{"s":"UDS","b":"F140W","t":"c","l":2,"o":6,"x":-0.096,"y":-0.174},
{"s":"UDS","b":"F140W","t":"c","l":2,"o":7,"x":-0.1,"y":-0.042},
{"s":"UDS","b":"F140W","t":"c","l":2,"o":8,"x":-0.1,"y":0.078},
{"s":"UDS","b":"F140W","t":"c","l":2,"o":9,"x":-0.07,"y":0.2},
{"s":"UDS","b":"F140W","t":"c","l":3,"o":0,"x":-0.03,"y":0.08},
{"s":"UDS","b":"F140W","t":"c","l":3,"o":1,"x":0.02,"y":0.07},
{"s":"UDS","b":"F140W","t":"c","l":3,"o":2,"x":0.03,"y":-0.02},
{"s":"UDS","b":"F140W","t":"c","l":3,"o":3,"x":0.0,"y":-0.08},
{"s":"UDS","b":"F140W","t":"c","l":3,"o":4,"x":-0.04,"y":-0.08},
{"s":"UDS","b":"F140W","t":"c","l":3,"o":5,"x":-0.05,"y":0.01},
{"s":"UDS","b":"F140W","t":"c","l":3,"o":6,"x":-0.03,"y":0.08},

{"s":"AEGIS","b":"F125W","t":"p","x":0.12,"y":0.24},{"s":"AEGIS","b":"F125W","t":"p","x":0.045,"y":0.226},{"s":"AEGIS","b":"F125W","t":"p","x":0.075,"y":0.19},{"s":"AEGIS","b":"F125W","t":"p","x":-0.15,"y":0.155},{"s":"AEGIS","b":"F125W","t":"p","x":0.165,"y":-0.02},{"s":"AEGIS","b":"F125W","t":"p","x":0.2,"y":-0.035},{"s":"AEGIS","b":"F125W","t":"p","x":-0.4,"y":-0.2},{"s":"AEGIS","b":"F125W","t":"p","x":-0.31,"y":-0.325},{"s":"AEGIS","b":"F125W","t":"p","x":-0.3,"y":-0.36},{"s":"AEGIS","b":"F125W","t":"p","x":-0.25,"y":-0.39},{"s":"AEGIS","b":"F125W","t":"p","x":-0.22,"y":-0.42},{"s":"AEGIS","b":"F125W","t":"p","x":-0.19,"y":-0.446},{"s":"AEGIS","b":"F125W","t":"p","x":-0.13,"y":-0.46},{"s":"AEGIS","b":"F125W","t":"p","x":-0.18,"y":-0.354},{"s":"AEGIS","b":"F125W","t":"p","x":-0.27,"y":-0.28},{"s":"AEGIS","b":"F125W","t":"p","x":-0.1,"y":-0.383},{"s":"AEGIS","b":"F125W","t":"p","x":-0.07,"y":-0.368},{"s":"AEGIS","b":"F125W","t":"p","x":-0.04,"y":-0.426},{"s":"AEGIS","b":"F125W","t":"p","x":-0.31,"y":-0.25},{"s":"AEGIS","b":"F125W","t":"p","x":0.134,"y":0.0},{"s":"AEGIS","b":"F125W","t":"p","x":0.1,"y":-0.107},{"s":"AEGIS","b":"F125W","t":"p","x":0.06,"y":-0.21},{"s":"AEGIS","b":"F125W","t":"p","x":0.02,"y":-0.325},{"s":"AEGIS","b":"F125W","t":"p","x":-0.24,"y":0.0},{"s":"AEGIS","b":"F125W","t":"p","x":-0.33,"y":-0.02},{"s":"AEGIS","b":"F125W","t":"p","x":-0.015,"y":0.168},{"s":"AEGIS","b":"F125W","t":"p","x":0.105,"y":0.14},{"s":"AEGIS","b":"F125W","t":"p","x":-0.24,"y":-0.136},{"s":"AEGIS","b":"F125W","t":"p","x":-0.27,"y":-0.21},{"s":"AEGIS","b":"F125W","t":"p","x":-0.15,"y":-0.405},{"s":"AEGIS","b":"F125W","t":"p","x":-0.2,"y":-0.33},{"s":"AEGIS","b":"F125W","t":"p","x":-0.16,"y":-0.37},{"s":"AEGIS","b":"F125W","t":"p","x":-0.05,"y":-0.3},{"s":"AEGIS","b":"F125W","t":"p","x":0.03,"y":-0.27},{"s":"AEGIS","b":"F125W","t":"p","x":0.09,"y":-0.14},{"s":"AEGIS","b":"F125W","t":"p","x":-0.23,"y":-0.26},{"s":"AEGIS","b":"F125W","t":"p","x":-0.2,"y":0.07},{"s":"AEGIS","b":"F125W","t":"p","x":0.14,"y":0.07},

{"s":"COSMOS","b":"F125W","t":"p","x":0.12,"y":0.3},{"s":"COSMOS","b":"F125W","t":"p","x":-0.06,"y":0.226},{"s":"COSMOS","b":"F125W","t":"p","x":0.09,"y":0.226},{"s":"COSMOS","b":"F125W","t":"p","x":0.045,"y":0.21},{"s":"COSMOS","b":"F125W","t":"p","x":-0.134,"y":0.197},{"s":"COSMOS","b":"F125W","t":"p","x":-0.224,"y":0.154},{"s":"COSMOS","b":"F125W","t":"p","x":-0.254,"y":0.081},{"s":"COSMOS","b":"F125W","t":"p","x":-0.24,"y":-0.064},{"s":"COSMOS","b":"F125W","t":"p","x":-0.284,"y":-0.107},{"s":"COSMOS","b":"F125W","t":"p","x":-0.36,"y":-0.18},{"s":"COSMOS","b":"F125W","t":"p","x":-0.21,"y":-0.296},{"s":"COSMOS","b":"F125W","t":"p","x":-0.18,"y":-0.354},{"s":"COSMOS","b":"F125W","t":"p","x":-0.15,"y":-0.383},{"s":"COSMOS","b":"F125W","t":"p","x":-0.134,"y":-0.417},{"s":"COSMOS","b":"F125W","t":"p","x":-0.104,"y":-0.446},{"s":"COSMOS","b":"F125W","t":"p","x":-0.12,"y":-0.354},{"s":"COSMOS","b":"F125W","t":"p","x":-0.084,"y":-0.397},{"s":"COSMOS","b":"F125W","t":"p","x":-0.045,"y":-0.368},{"s":"COSMOS","b":"F125W","t":"p","x":-0.015,"y":-0.348},{"s":"COSMOS","b":"F125W","t":"p","x":0.143,"y":-0.093},{"s":"COSMOS","b":"F125W","t":"p","x":0.173,"y":-0.035},{"s":"COSMOS","b":"F125W","t":"p","x":0.185,"y":0.038},{"s":"COSMOS","b":"F125W","t":"p","x":0.134,"y":0.183},{"s":"COSMOS","b":"F125W","t":"p","x":-0.24,"y":0.009},{"s":"COSMOS","b":"F125W","t":"p","x":-0.27,"y":-0.029},{"s":"COSMOS","b":"F125W","t":"p","x":0.125,"y":-0.209},{"s":"COSMOS","b":"F125W","t":"p","x":0.075,"y":-0.31},{"s":"COSMOS","b":"F125W","t":"p","x":0.024,"y":-0.388},{"s":"COSMOS","b":"F125W","t":"p","x":-0.1,"y":0.2},{"s":"COSMOS","b":"F125W","t":"p","x":0.0,"y":0.2},{"s":"COSMOS","b":"F125W","t":"p","x":-0.23,"y":-0.2},{"s":"COSMOS","b":"F125W","t":"p","x":-0.25,"y":-0.25},{"s":"COSMOS","b":"F125W","t":"p","x":0.16,"y":0.12},

{"s":"GOODS-N","b":"F125W","t":"p","x":-0.44,"y":0.08},{"s":"GOODS-N","b":"F125W","t":"p","x":-0.245,"y":0.038},{"s":"GOODS-N","b":"F125W","t":"p","x":-0.23,"y":-0.035},{"s":"GOODS-N","b":"F125W","t":"p","x":-0.2,"y":0.168},{"s":"GOODS-N","b":"F125W","t":"p","x":-0.11,"y":0.197},{"s":"GOODS-N","b":"F125W","t":"p","x":0.07,"y":0.226},{"s":"GOODS-N","b":"F125W","t":"p","x":0.113,"y":0.255},{"s":"GOODS-N","b":"F125W","t":"p","x":0.158,"y":0.255},{"s":"GOODS-N","b":"F125W","t":"p","x":0.164,"y":0.11},{"s":"GOODS-N","b":"F125W","t":"p","x":0.182,"y":0.038},{"s":"GOODS-N","b":"F125W","t":"p","x":0.173,"y":-0.064},{"s":"GOODS-N","b":"F125W","t":"p","x":0.084,"y":-0.157},{"s":"GOODS-N","b":"F125W","t":"p","x":0.054,"y":-0.243},{"s":"GOODS-N","b":"F125W","t":"p","x":-0.26,"y":-0.209},{"s":"GOODS-N","b":"F125W","t":"p","x":-0.245,"y":-0.258},{"s":"GOODS-N","b":"F125W","t":"p","x":-0.23,"y":-0.3},{"s":"GOODS-N","b":"F125W","t":"p","x":-0.194,"y":-0.33},{"s":"GOODS-N","b":"F125W","t":"p","x":-0.17,"y":-0.36},{"s":"GOODS-N","b":"F125W","t":"p","x":-0.134,"y":-0.34},{"s":"GOODS-N","b":"F125W","t":"p","x":-0.096,"y":-0.36},{"s":"GOODS-N","b":"F125W","t":"p","x":-0.075,"y":-0.31},{"s":"GOODS-N","b":"F125W","t":"p","x":-0.066,"y":-0.388},{"s":"GOODS-N","b":"F125W","t":"p","x":-0.033,"y":-0.417},{"s":"GOODS-N","b":"F125W","t":"p","x":-0.14,"y":-0.417},{"s":"GOODS-N","b":"F125W","t":"p","x":0.1,"y":-0.27},{"s":"GOODS-N","b":"F125W","t":"p","x":0.182,"y":0.162},{"s":"GOODS-N","b":"F125W","t":"p","x":-0.3,"y":-0.093},{"s":"GOODS-N","b":"F125W","t":"p","x":-0.22,"y":-0.15},{"s":"GOODS-N","b":"F125W","t":"p","x":0.0,"y":-0.25},{"s":"GOODS-N","b":"F125W","t":"p","x":0.15,"y":0.19},{"s":"GOODS-N","b":"F125W","t":"p","x":0.03,"y":0.2},

{"s":"GOODS-S","b":"F125W","t":"p","x":-0.29,"y":0.067},{"s":"GOODS-S","b":"F125W","t":"p","x":-0.32,"y":-0.093},{"s":"GOODS-S","b":"F125W","t":"p","x":-0.095,"y":0.197},{"s":"GOODS-S","b":"F125W","t":"p","x":-0.021,"y":0.212},{"s":"GOODS-S","b":"F125W","t":"p","x":0.024,"y":0.232},{"s":"GOODS-S","b":"F125W","t":"p","x":0.069,"y":0.183},{"s":"GOODS-S","b":"F125W","t":"p","x":0.128,"y":0.145},{"s":"GOODS-S","b":"F125W","t":"p","x":0.167,"y":0.081},{"s":"GOODS-S","b":"F125W","t":"p","x":0.188,"y":-0.012},{"s":"GOODS-S","b":"F125W","t":"p","x":0.143,"y":-0.078},{"s":"GOODS-S","b":"F125W","t":"p","x":0.113,"y":-0.136},{"s":"GOODS-S","b":"F125W","t":"p","x":0.069,"y":-0.194},{"s":"GOODS-S","b":"F125W","t":"p","x":0.039,"y":-0.243},{"s":"GOODS-S","b":"F125W","t":"p","x":0.024,"y":-0.325},{"s":"GOODS-S","b":"F125W","t":"p","x":-0.036,"y":-0.272},{"s":"GOODS-S","b":"F125W","t":"p","x":-0.125,"y":-0.252},{"s":"GOODS-S","b":"F125W","t":"p","x":-0.17,"y":-0.272},{"s":"GOODS-S","b":"F125W","t":"p","x":-0.1,"y":-0.296},{"s":"GOODS-S","b":"F125W","t":"p","x":-0.066,"y":-0.319},{"s":"GOODS-S","b":"F125W","t":"p","x":0.039,"y":-0.426},{"s":"GOODS-S","b":"F125W","t":"p","x":-0.245,"y":-0.006},{"s":"GOODS-S","b":"F125W","t":"p","x":-0.185,"y":-0.078},{"s":"GOODS-S","b":"F125W","t":"p","x":-0.275,"y":-0.15},{"s":"GOODS-S","b":"F125W","t":"p","x":0.14,"y":0.04},{"s":"GOODS-S","b":"F125W","t":"p","x":-0.05,"y":0.17},{"s":"GOODS-S","b":"F125W","t":"p","x":-0.23,"y":-0.2},

{"s":"UDS","b":"F125W","t":"p","x":-0.24,"y":0.125},{"s":"UDS","b":"F125W","t":"p","x":-0.254,"y":0.052},{"s":"UDS","b":"F125W","t":"p","x":-0.21,"y":0.017},{"s":"UDS","b":"F125W","t":"p","x":-0.24,"y":-0.029},{"s":"UDS","b":"F125W","t":"p","x":-0.194,"y":-0.064},{"s":"UDS","b":"F125W","t":"p","x":-0.27,"y":-0.116},{"s":"UDS","b":"F125W","t":"p","x":-0.343,"y":-0.267},{"s":"UDS","b":"F125W","t":"p","x":-0.18,"y":-0.252},{"s":"UDS","b":"F125W","t":"p","x":-0.134,"y":-0.272},{"s":"UDS","b":"F125W","t":"p","x":-0.09,"y":-0.3},{"s":"UDS","b":"F125W","t":"p","x":-0.06,"y":-0.33},{"s":"UDS","b":"F125W","t":"p","x":-0.104,"y":-0.36},{"s":"UDS","b":"F125W","t":"p","x":-0.134,"y":-0.325},{"s":"UDS","b":"F125W","t":"p","x":-0.03,"y":-0.368},{"s":"UDS","b":"F125W","t":"p","x":0.006,"y":-0.388},{"s":"UDS","b":"F125W","t":"p","x":-0.27,"y":-0.383},{"s":"UDS","b":"F125W","t":"p","x":0.095,"y":0.226},{"s":"UDS","b":"F125W","t":"p","x":0.045,"y":0.26},{"s":"UDS","b":"F125W","t":"p","x":0.173,"y":0.023},{"s":"UDS","b":"F125W","t":"p","x":0.185,"y":-0.029},{"s":"UDS","b":"F125W","t":"p","x":0.15,"y":-0.087},{"s":"UDS","b":"F125W","t":"p","x":0.104,"y":-0.185},{"s":"UDS","b":"F125W","t":"p","x":0.075,"y":-0.26},{"s":"UDS","b":"F125W","t":"p","x":-0.06,"y":0.226},{"s":"UDS","b":"F125W","t":"p","x":0.0,"y":0.272},{"s":"UDS","b":"F125W","t":"p","x":-0.18,"y":-0.18},{"s":"UDS","b":"F125W","t":"p","x":0.17,"y":0.15},{"s":"UDS","b":"F125W","t":"p","x":-0.17,"y":0.1},

{"s":"AEGIS","b":"F140W","t":"p","x":0.1,"y":0.3},{"s":"AEGIS","b":"F140W","t":"p","x":0.128,"y":0.272},{"s":"AEGIS","b":"F140W","t":"p","x":0.143,"y":0.214},{"s":"AEGIS","b":"F140W","t":"p","x":0.069,"y":0.229},{"s":"AEGIS","b":"F140W","t":"p","x":-0.125,"y":0.2},{"s":"AEGIS","b":"F140W","t":"p","x":-0.2,"y":0.128},{"s":"AEGIS","b":"F140W","t":"p","x":-0.38,"y":0.055},{"s":"AEGIS","b":"F140W","t":"p","x":-0.35,"y":-0.046},{"s":"AEGIS","b":"F140W","t":"p","x":-0.29,"y":-0.003},{"s":"AEGIS","b":"F140W","t":"p","x":-0.26,"y":-0.104},{"s":"AEGIS","b":"F140W","t":"p","x":-0.23,"y":-0.168},{"s":"AEGIS","b":"F140W","t":"p","x":-0.2,"y":-0.226},{"s":"AEGIS","b":"F140W","t":"p","x":-0.215,"y":-0.293},{"s":"AEGIS","b":"F140W","t":"p","x":-0.185,"y":-0.35},{"s":"AEGIS","b":"F140W","t":"p","x":-0.17,"y":-0.4},{"s":"AEGIS","b":"F140W","t":"p","x":-0.134,"y":-0.365},{"s":"AEGIS","b":"F140W","t":"p","x":-0.11,"y":-0.417},{"s":"AEGIS","b":"F140W","t":"p","x":-0.075,"y":-0.44},{"s":"AEGIS","b":"F140W","t":"p","x":-0.045,"y":-0.423},{"s":"AEGIS","b":"F140W","t":"p","x":-0.021,"y":-0.388},{"s":"AEGIS","b":"F140W","t":"p","x":0.024,"y":-0.35},{"s":"AEGIS","b":"F140W","t":"p","x":0.045,"y":-0.293},{"s":"AEGIS","b":"F140W","t":"p","x":0.075,"y":-0.22},{"s":"AEGIS","b":"F140W","t":"p","x":0.143,"y":-0.11},{"s":"AEGIS","b":"F140W","t":"p","x":0.194,"y":-0.032},{"s":"AEGIS","b":"F140W","t":"p","x":0.164,"y":0.055},{"s":"AEGIS","b":"F140W","t":"p","x":-0.32,"y":-0.148},{"s":"AEGIS","b":"F140W","t":"p","x":-0.155,"y":-0.467},{"s":"AEGIS","b":"F140W","t":"p","x":-0.21,"y":-0.05},{"s":"AEGIS","b":"F140W","t":"p","x":-0.2,"y":0.0},{"s":"AEGIS","b":"F140W","t":"p","x":-0.15,"y":-0.32},{"s":"AEGIS","b":"F140W","t":"p","x":-0.17,"y":-0.26},{"s":"AEGIS","b":"F140W","t":"p","x":-0.08,"y":-0.38},

{"s":"COSMOS","b":"F140W","t":"p","x":0.143,"y":0.374},{"s":"COSMOS","b":"F140W","t":"p","x":0.054,"y":0.325},{"s":"COSMOS","b":"F140W","t":"p","x":-0.006,"y":0.296},{"s":"COSMOS","b":"F140W","t":"p","x":-0.066,"y":0.267},{"s":"COSMOS","b":"F140W","t":"p","x":0.084,"y":0.238},{"s":"COSMOS","b":"F140W","t":"p","x":-0.125,"y":0.226},{"s":"COSMOS","b":"F140W","t":"p","x":-0.245,"y":0.07},{"s":"COSMOS","b":"F140W","t":"p","x":-0.275,"y":-0.075},{"s":"COSMOS","b":"F140W","t":"p","x":-0.3,"y":-0.139},{"s":"COSMOS","b":"F140W","t":"p","x":-0.245,"y":-0.255},{"s":"COSMOS","b":"F140W","t":"p","x":-0.215,"y":-0.313},{"s":"COSMOS","b":"F140W","t":"p","x":-0.185,"y":-0.371},{"s":"COSMOS","b":"F140W","t":"p","x":-0.17,"y":-0.429},{"s":"COSMOS","b":"F140W","t":"p","x":-0.14,"y":-0.4},{"s":"COSMOS","b":"F140W","t":"p","x":-0.006,"y":-0.417},{"s":"COSMOS","b":"F140W","t":"p","x":0.03,"y":-0.365},{"s":"COSMOS","b":"F140W","t":"p","x":0.06,"y":-0.278},{"s":"COSMOS","b":"F140W","t":"p","x":0.1,"y":-0.197},{"s":"COSMOS","b":"F140W","t":"p","x":0.137,"y":-0.099},{"s":"COSMOS","b":"F140W","t":"p","x":0.16,"y":-0.017},{"s":"COSMOS","b":"F140W","t":"p","x":0.173,"y":0.07},{"s":"COSMOS","b":"F140W","t":"p","x":-0.185,"y":-0.458},{"s":"COSMOS","b":"F140W","t":"p","x":-0.334,"y":-0.017},{"s":"COSMOS","b":"F140W","t":"p","x":-0.095,"y":-0.48},{"s":"COSMOS","b":"F140W","t":"p","x":-0.02,"y":0.23},{"s":"COSMOS","b":"F140W","t":"p","x":0.05,"y":0.2},{"s":"COSMOS","b":"F140W","t":"p","x":-0.18,"y":-0.3},{"s":"COSMOS","b":"F140W","t":"p","x":-0.16,"y":0.18},

{"s":"GOODS-N","b":"F140W","t":"p","x":-0.44,"y":0.128},{"s":"GOODS-N","b":"F140W","t":"p","x":-0.23,"y":0.258},{"s":"GOODS-N","b":"F140W","t":"p","x":-0.185,"y":0.214},{"s":"GOODS-N","b":"F140W","t":"p","x":-0.215,"y":0.151},{"s":"GOODS-N","b":"F140W","t":"p","x":-0.245,"y":0.04},{"s":"GOODS-N","b":"F140W","t":"p","x":-0.23,"y":-0.04},{"s":"GOODS-N","b":"F140W","t":"p","x":-0.394,"y":-0.177},{"s":"GOODS-N","b":"F140W","t":"p","x":-0.245,"y":-0.119},{"s":"GOODS-N","b":"F140W","t":"p","x":-0.215,"y":-0.186},{"s":"GOODS-N","b":"F140W","t":"p","x":-0.32,"y":-0.255},{"s":"GOODS-N","b":"F140W","t":"p","x":-0.2,"y":-0.284},{"s":"GOODS-N","b":"F140W","t":"p","x":-0.17,"y":-0.336},{"s":"GOODS-N","b":"F140W","t":"p","x":-0.14,"y":-0.371},{"s":"GOODS-N","b":"F140W","t":"p","x":-0.155,"y":-0.429},{"s":"GOODS-N","b":"F140W","t":"p","x":-0.11,"y":-0.4},{"s":"GOODS-N","b":"F140W","t":"p","x":-0.075,"y":-0.354},{"s":"GOODS-N","b":"F140W","t":"p","x":-0.036,"y":-0.365},{"s":"GOODS-N","b":"F140W","t":"p","x":-0.05,"y":-0.438},{"s":"GOODS-N","b":"F140W","t":"p","x":-0.087,"y":-0.472},{"s":"GOODS-N","b":"F140W","t":"p","x":0.003,"y":-0.313},{"s":"GOODS-N","b":"F140W","t":"p","x":0.069,"y":-0.264},{"s":"GOODS-N","b":"F140W","t":"p","x":0.104,"y":-0.22},{"s":"GOODS-N","b":"F140W","t":"p","x":0.134,"y":-0.075},{"s":"GOODS-N","b":"F140W","t":"p","x":0.152,"y":0.012},{"s":"GOODS-N","b":"F140W","t":"p","x":0.146,"y":0.099},{"s":"GOODS-N","b":"F140W","t":"p","x":0.069,"y":0.238},{"s":"GOODS-N","b":"F140W","t":"p","x":0.128,"y":0.162},{"s":"GOODS-N","b":"F140W","t":"p","x":-0.134,"y":0.272},{"s":"GOODS-N","b":"F140W","t":"p","x":-0.2,"y":-0.25},{"s":"GOODS-N","b":"F140W","t":"p","x":-0.1,"y":-0.32},

{"s":"GOODS-S","b":"F140W","t":"p","x":0.173,"y":0.229},{"s":"GOODS-S","b":"F140W","t":"p","x":0.084,"y":0.258},{"s":"GOODS-S","b":"F140W","t":"p","x":-0.006,"y":0.258},{"s":"GOODS-S","b":"F140W","t":"p","x":-0.29,"y":0.157},{"s":"GOODS-S","b":"F140W","t":"p","x":-0.215,"y":0.1},{"s":"GOODS-S","b":"F140W","t":"p","x":-0.245,"y":-0.046},{"s":"GOODS-S","b":"F140W","t":"p","x":-0.185,"y":-0.139},{"s":"GOODS-S","b":"F140W","t":"p","x":-0.23,"y":-0.278},{"s":"GOODS-S","b":"F140W","t":"p","x":-0.155,"y":-0.342},{"s":"GOODS-S","b":"F140W","t":"p","x":-0.125,"y":-0.38},{"s":"GOODS-S","b":"F140W","t":"p","x":-0.09,"y":-0.4},{"s":"GOODS-S","b":"F140W","t":"p","x":-0.036,"y":-0.429},{"s":"GOODS-S","b":"F140W","t":"p","x":0.0,"y":-0.394},{"s":"GOODS-S","b":"F140W","t":"p","x":0.03,"y":-0.336},{"s":"GOODS-S","b":"F140W","t":"p","x":0.084,"y":-0.278},{"s":"GOODS-S","b":"F140W","t":"p","x":0.128,"y":-0.197},{"s":"GOODS-S","b":"F140W","t":"p","x":0.149,"y":-0.11},{"s":"GOODS-S","b":"F140W","t":"p","x":0.161,"y":-0.023},{"s":"GOODS-S","b":"F140W","t":"p","x":0.188,"y":0.07},{"s":"GOODS-S","b":"F140W","t":"p","x":0.12,"y":0.162},{"s":"GOODS-S","b":"F140W","t":"p","x":-0.14,"y":-0.467},{"s":"GOODS-S","b":"F140W","t":"p","x":-0.08,"y":-0.48},{"s":"GOODS-S","b":"F140W","t":"p","x":-0.275,"y":-0.162},{"s":"GOODS-S","b":"F140W","t":"p","x":-0.2,"y":0.2},{"s":"GOODS-S","b":"F140W","t":"p","x":0.1,"y":-0.3},

{"s":"UDS","b":"F140W","t":"p","x":0.054,"y":0.374},{"s":"UDS","b":"F140W","t":"p","x":0.024,"y":0.33},{"s":"UDS","b":"F140W","t":"p","x":0.113,"y":0.383},{"s":"UDS","b":"F140W","t":"p","x":-0.066,"y":0.354},{"s":"UDS","b":"F140W","t":"p","x":-0.11,"y":0.287},{"s":"UDS","b":"F140W","t":"p","x":-0.146,"y":0.22},{"s":"UDS","b":"F140W","t":"p","x":-0.2,"y":0.18},{"s":"UDS","b":"F140W","t":"p","x":-0.26,"y":0.055},{"s":"UDS","b":"F140W","t":"p","x":-0.224,"y":0.035},{"s":"UDS","b":"F140W","t":"p","x":-0.17,"y":0.07},{"s":"UDS","b":"F140W","t":"p","x":-0.334,"y":-0.197},{"s":"UDS","b":"F140W","t":"p","x":-0.14,"y":-0.22},{"s":"UDS","b":"F140W","t":"p","x":-0.11,"y":-0.264},{"s":"UDS","b":"F140W","t":"p","x":-0.08,"y":-0.307},{"s":"UDS","b":"F140W","t":"p","x":-0.045,"y":-0.293},{"s":"UDS","b":"F140W","t":"p","x":-0.021,"y":-0.336},{"s":"UDS","b":"F140W","t":"p","x":-0.033,"y":-0.371},{"s":"UDS","b":"F140W","t":"p","x":-0.003,"y":-0.4},{"s":"UDS","b":"F140W","t":"p","x":0.039,"y":-0.365},{"s":"UDS","b":"F140W","t":"p","x":0.075,"y":-0.44},{"s":"UDS","b":"F140W","t":"p","x":-0.096,"y":-0.354},{"s":"UDS","b":"F140W","t":"p","x":0.176,"y":0.026},{"s":"UDS","b":"F140W","t":"p","x":0.206,"y":0.084},{"s":"UDS","b":"F140W","t":"p","x":0.158,"y":0.186},{"s":"UDS","b":"F140W","t":"p","x":0.188,"y":-0.133},{"s":"UDS","b":"F140W","t":"p","x":0.158,"y":-0.197},{"s":"UDS","b":"F140W","t":"p","x":0.0,"y":0.3},{"s":"UDS","b":"F140W","t":"p","x":0.08,"y":0.33}
]},
"facet":{
 "row":{"field":"b","type":"nominal","header":{"title":null,"labelExpr":"'Δ' + datum.value + ' (GF-3DHST)'","labelAngle":-90,"labelOrient":"left","labelAlign":"center","labelBaseline":"bottom","labelFont":"DejaVu Sans Condensed, DejaVu Sans","labelFontSize":10,"labelColor":"black","labelPadding":-8}},
 "column":{"field":"s","type":"nominal","header":{"labels":false,"title":null}}
},
"spacing":0,
"spec":{
 "width":111.6,"height":116,
 "layer":[
  {"transform":[{"filter":"datum.t=='p'"}],"mark":{"type":"circle","size":6,"color":"#808080","opacity":0.9},
   "encoding":{
    "x":{"field":"x","type":"quantitative","scale":{"domain":[-0.5,0.5],"nice":false,"zero":false},"axis":{"values":[-0.4,-0.2,0,0.2,0.4],"format":".1f","title":"ΔF160W (GF-3DHST)"}},
    "y":{"field":"y","type":"quantitative","scale":{"domain":[-0.5,0.5],"nice":false,"zero":false},"axis":{"values":[-0.4,-0.2,0,0.2,0.4],"format":".1f","title":null}}}},
  {"transform":[{"filter":"datum.t=='c' && datum.l==1"}],"mark":{"type":"line","fill":"#bdbdbd","strokeOpacity":0},
   "encoding":{"x":{"field":"x","type":"quantitative"},"y":{"field":"y","type":"quantitative"},"order":{"field":"o"}}},
  {"transform":[{"filter":"datum.t=='c' && datum.l==2"}],"mark":{"type":"line","strokeWidth":2},
   "encoding":{"x":{"field":"x","type":"quantitative"},"y":{"field":"y","type":"quantitative"},"order":{"field":"o"},
    "fill":{"field":"s","type":"nominal","scale":{"domain":["AEGIS","COSMOS","GOODS-N","GOODS-S","UDS"],"range":["#505050","#ff0000","#0000ff","#008000","#ff00ff"]},"legend":null},
    "stroke":{"field":"s","type":"nominal","scale":{"domain":["AEGIS","COSMOS","GOODS-N","GOODS-S","UDS"],"range":["#000000","#ff0000","#0000ff","#008000","#ff00ff"]},"legend":null}}},
  {"transform":[{"filter":"datum.t=='c' && datum.l==3"}],"mark":{"type":"line","fill":"#000000","strokeWidth":1.2},
   "encoding":{"x":{"field":"x","type":"quantitative"},"y":{"field":"y","type":"quantitative"},"order":{"field":"o"},
    "stroke":{"field":"s","type":"nominal","legend":null}}},
  {"transform":[{"filter":"datum.t=='c' && datum.l==1"}],"mark":{"type":"line","strokeWidth":2.2},
   "encoding":{"x":{"field":"x","type":"quantitative"},"y":{"field":"y","type":"quantitative"},"order":{"field":"o"},
    "stroke":{"field":"s","type":"nominal","legend":null}}},
  {"transform":[{"filter":"datum.t=='s'"}],"mark":{"type":"rule","color":"black","strokeWidth":1.6,"strokeDash":[6,4]},"encoding":{"x":{"datum":0}}},
  {"transform":[{"filter":"datum.t=='s'"}],"mark":{"type":"rule","color":"black","strokeWidth":1.6,"strokeDash":[6,4]},"encoding":{"y":{"datum":0}}},
  {"transform":[{"filter":"datum.t=='s'"}],"mark":{"type":"point","shape":"M0,-1L0.2245,-0.309L0.951,-0.309L0.363,0.118L0.588,0.809L0,0.382L-0.588,0.809L-0.363,0.118L-0.951,-0.309L-0.2245,-0.309Z","size":50,"filled":false,"stroke":"white","strokeWidth":1,"opacity":1},
   "encoding":{"x":{"field":"x","type":"quantitative"},"y":{"field":"y","type":"quantitative"}}},
  {"transform":[{"filter":"datum.t=='s' && datum.b=='F125W'"}],"mark":{"type":"text","align":"left","baseline":"middle","font":"DejaVu Sans Condensed, DejaVu Sans","fontSize":10,"color":"black"},
   "encoding":{"x":{"datum":-0.44},"y":{"datum":0.41},"text":{"field":"s"}}},
  {"transform":[{"filter":"datum.t=='s'"}],"mark":{"type":"text","align":"left","baseline":"middle","font":"DejaVu Sans Condensed, DejaVu Sans","fontSize":10,"color":"black"},
   "encoding":{"x":{"datum":-0.465},"y":{"datum":0.325},"text":{"field":"m"}}},
  {"transform":[{"filter":"datum.t=='s'"}],"mark":{"type":"rule","color":"black","strokeWidth":0.8},"encoding":{"x":{"datum":-0.4},"y":{"datum":-0.5},"y2":{"datum":-0.465}}},
  {"transform":[{"filter":"datum.t=='s'"}],"mark":{"type":"rule","color":"black","strokeWidth":0.8},"encoding":{"x":{"datum":-0.2},"y":{"datum":-0.5},"y2":{"datum":-0.465}}},
  {"transform":[{"filter":"datum.t=='s'"}],"mark":{"type":"rule","color":"black","strokeWidth":0.8},"encoding":{"x":{"datum":0},"y":{"datum":-0.5},"y2":{"datum":-0.465}}},
  {"transform":[{"filter":"datum.t=='s'"}],"mark":{"type":"rule","color":"black","strokeWidth":0.8},"encoding":{"x":{"datum":0.2},"y":{"datum":-0.5},"y2":{"datum":-0.465}}},
  {"transform":[{"filter":"datum.t=='s'"}],"mark":{"type":"rule","color":"black","strokeWidth":0.8},"encoding":{"x":{"datum":0.4},"y":{"datum":-0.5},"y2":{"datum":-0.465}}},
  {"transform":[{"filter":"datum.t=='s'"}],"mark":{"type":"rule","color":"black","strokeWidth":0.8},"encoding":{"x":{"datum":-0.4},"y":{"datum":0.5},"y2":{"datum":0.465}}},
  {"transform":[{"filter":"datum.t=='s'"}],"mark":{"type":"rule","color":"black","strokeWidth":0.8},"encoding":{"x":{"datum":-0.2},"y":{"datum":0.5},"y2":{"datum":0.465}}},
  {"transform":[{"filter":"datum.t=='s'"}],"mark":{"type":"rule","color":"black","strokeWidth":0.8},"encoding":{"x":{"datum":0},"y":{"datum":0.5},"y2":{"datum":0.465}}},
  {"transform":[{"filter":"datum.t=='s'"}],"mark":{"type":"rule","color":"black","strokeWidth":0.8},"encoding":{"x":{"datum":0.2},"y":{"datum":0.5},"y2":{"datum":0.465}}},
  {"transform":[{"filter":"datum.t=='s'"}],"mark":{"type":"rule","color":"black","strokeWidth":0.8},"encoding":{"x":{"datum":0.4},"y":{"datum":0.5},"y2":{"datum":0.465}}},
  {"transform":[{"filter":"datum.t=='s'"}],"mark":{"type":"rule","color":"black","strokeWidth":0.8},"encoding":{"y":{"datum":-0.4},"x":{"datum":-0.5},"x2":{"datum":-0.464}}},
  {"transform":[{"filter":"datum.t=='s'"}],"mark":{"type":"rule","color":"black","strokeWidth":0.8},"encoding":{"y":{"datum":-0.2},"x":{"datum":-0.5},"x2":{"datum":-0.464}}},
  {"transform":[{"filter":"datum.t=='s'"}],"mark":{"type":"rule","color":"black","strokeWidth":0.8},"encoding":{"y":{"datum":0},"x":{"datum":-0.5},"x2":{"datum":-0.464}}},
  {"transform":[{"filter":"datum.t=='s'"}],"mark":{"type":"rule","color":"black","strokeWidth":0.8},"encoding":{"y":{"datum":0.2},"x":{"datum":-0.5},"x2":{"datum":-0.464}}},
  {"transform":[{"filter":"datum.t=='s'"}],"mark":{"type":"rule","color":"black","strokeWidth":0.8},"encoding":{"y":{"datum":0.4},"x":{"datum":-0.5},"x2":{"datum":-0.464}}},
  {"transform":[{"filter":"datum.t=='s'"}],"mark":{"type":"rule","color":"black","strokeWidth":0.8},"encoding":{"y":{"datum":-0.4},"x":{"datum":0.5},"x2":{"datum":0.464}}},
  {"transform":[{"filter":"datum.t=='s'"}],"mark":{"type":"rule","color":"black","strokeWidth":0.8},"encoding":{"y":{"datum":-0.2},"x":{"datum":0.5},"x2":{"datum":0.464}}},
  {"transform":[{"filter":"datum.t=='s'"}],"mark":{"type":"rule","color":"black","strokeWidth":0.8},"encoding":{"y":{"datum":0},"x":{"datum":0.5},"x2":{"datum":0.464}}},
  {"transform":[{"filter":"datum.t=='s'"}],"mark":{"type":"rule","color":"black","strokeWidth":0.8},"encoding":{"y":{"datum":0.2},"x":{"datum":0.5},"x2":{"datum":0.464}}},
  {"transform":[{"filter":"datum.t=='s'"}],"mark":{"type":"rule","color":"black","strokeWidth":0.8},"encoding":{"y":{"datum":0.4},"x":{"datum":0.5},"x2":{"datum":0.464}}}
 ]
},
"config":{
 "view":{"stroke":"black","strokeWidth":1},
 "axis":{"labelFont":"DejaVu Sans Condensed, DejaVu Sans","labelFontSize":10,"labelColor":"black","titleFont":"DejaVu Sans Condensed, DejaVu Sans","titleFontSize":9.5,"titleFontWeight":"normal","titleColor":"black","ticks":false,"domain":false,"grid":false,"labelPadding":3,"titlePadding":0,"labelFlush":false,"labelOverlap":false,"labelBound":false}
}
}
